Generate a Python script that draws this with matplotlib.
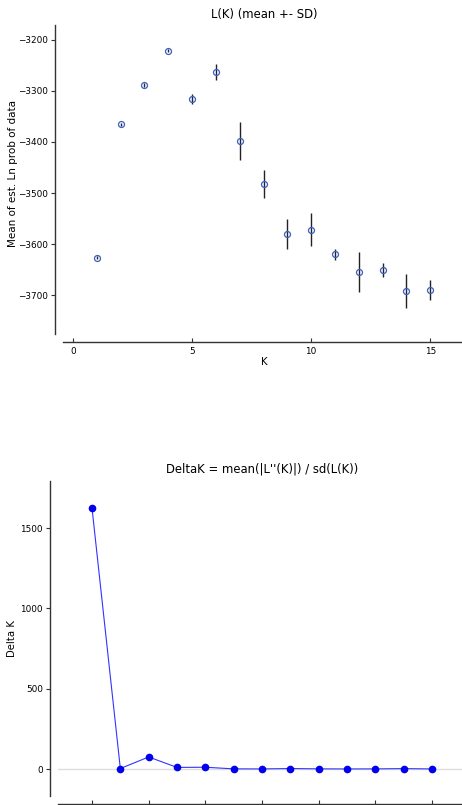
import matplotlib
matplotlib.use("Agg")
import matplotlib.pyplot as plt

# L(K) mean and SD per K
k_vals = [1, 2, 3, 4, 5, 6, 7, 8, 9, 10, 11, 12, 13, 14, 15]
mean_lnp = [-3627, -3365, -3288, -3221, -3316, -3263, -3398, -3482,
            -3580, -3572, -3620, -3655, -3651, -3692, -3690]
sd_lnp = [3, 3, 4, 3, 10, 15, 37, 28, 29, 32, 11, 39, 14, 34, 19]

# Delta K for K = 2..14
dk_k = [2, 3, 4, 5, 6, 7, 8, 9, 10, 11, 12, 13, 14]
delta_k = [1625, 3, 75, 10, 11, 1, 0.5, 3, 1, 0.5, 0.8, 2.5, 0.5]

W, H = 462, 805
fig = plt.figure(figsize=(W / 100, H / 100), dpi=100)


def px_box(left, top, right, bottom):
    return [left / W, (H - bottom) / H, (right - left) / W, (bottom - top) / H]


def style_axes(ax):
    for s in ["top", "right"]:
        ax.spines[s].set_visible(False)
    for s in ["left", "bottom"]:
        ax.spines[s].set_position(("outward", 6))
        ax.spines[s].set_linewidth(1.0)
        ax.spines[s].set_color("#333333")
    ax.tick_params(axis="y", direction="out", length=3, labelsize=6.4, pad=2)
    ax.tick_params(axis="x", direction="in", length=3, labelsize=6.4, pad=3)
    ax.tick_params(colors="#333333", labelcolor="black")


# upper panel
ax1 = fig.add_axes(px_box(63, 25, 466, 334))
ax1.errorbar(k_vals, mean_lnp, yerr=sd_lnp, fmt="o", color="black",
             ecolor="#222222", elinewidth=1.0, capsize=0,
             mfc="none", mec="#3a5fbf", mew=0.9, ms=4.3)
ax1.set_xlim(-0.42, 16.5)
ax1.set_ylim(-3776, -3171)
ax1.set_xticks([0, 5, 10, 15])
ax1.set_yticks([-3200, -3300, -3400, -3500, -3600, -3700])
style_axes(ax1)
ax1.set_title("L(K) (mean +- SD)", fontsize=8.4, pad=5)
ax1.set_xlabel("K", fontsize=7.3, labelpad=1)
ax1.set_ylabel("Mean of est. Ln prob of data", fontsize=7.5)
ax1.yaxis.set_label_coords(-0.112, 0.52)

# lower panel
ax2 = fig.add_axes(px_box(58, 481, 466, 796))
ax2.axhline(0, color="#dddddd", lw=1.0, zorder=0)
ax2.plot(dk_k, delta_k, "-o", color="#3333ff", lw=0.8,
         mfc="#0000ee", mec="#0000ee", ms=4.5)
ax2.set_xlim(0.8, 15.2)
ax2.set_ylim(-168, 1793)
ax2.set_xticks([2, 4, 6, 8, 10, 12, 14])
ax2.set_yticks([0, 500, 1000, 1500])
style_axes(ax2)
# tick labels of the lower x axis fall below the picture edge
ax2.tick_params(axis="x", labelbottom=False)
ax2.set_title("DeltaK = mean(|L''(K)|) / sd(L(K))", fontsize=8.4, pad=6)
ax2.set_ylabel("Delta K", fontsize=7.3)
ax2.yaxis.set_label_coords(-0.1, 0.5)

fig.savefig("out.png", dpi=100)
